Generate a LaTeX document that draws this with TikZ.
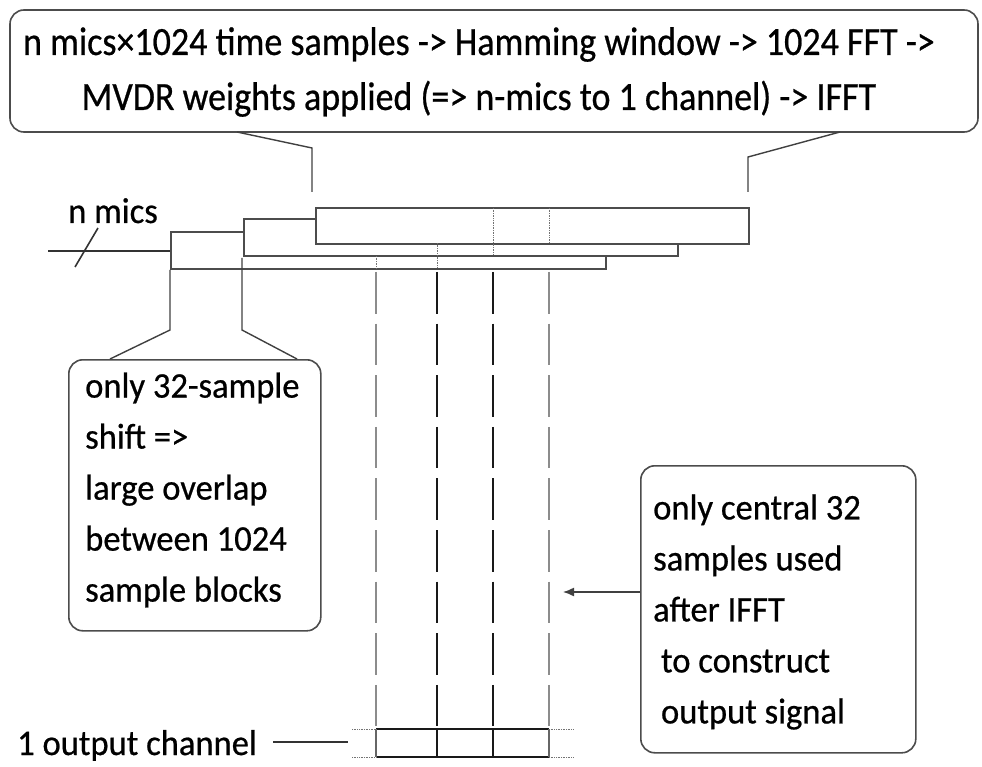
\documentclass[tikz,border=0pt]{standalone}
\usepackage{fontspec}
\setmainfont{Carlito}
\newfontfamily\topfont[FakeStretch=0.9,FakeBold=0.6]{Carlito}
\newfontfamily\boxfont[FakeStretch=0.96,FakeBold=0.6]{Carlito}
\usetikzlibrary{arrows.meta}
\begin{document}
\begin{tikzpicture}[x=1pt,y=-1pt,
  boxline/.style={draw=black!70, line width=1.6pt},
  callout/.style={boxline, rounded corners=14pt, fill=white},
  block/.style={boxline, fill=white},
  pointer/.style={draw=black!75, line width=1.4pt},
  guide/.style={draw=black!55, line width=0.7pt, densely dotted},
  greydash/.style={draw=black!45, line width=1.6pt, dash pattern=on 41.6pt off 10pt},
  blackdash/.style={draw=black!90, line width=2.2pt, dash pattern=on 41.6pt off 10pt},
  outline/.style={draw=black!90, line width=1.6pt},
  txt/.style={font=\boxfont\fontsize{36}{51}\selectfont, inner sep=0pt}
]
\useasboundingbox (0,0) rectangle (982,767);

% top callout
\draw[callout] (10,10) rectangle (978,132);
\node[font=\topfont\fontsize{40}{55}\selectfont, align=center, inner sep=0pt] (toptext) at (479,72)
  {n mics×1024 time samples -> Hamming window -> 1024 FFT ->\\
   MVDR weights applied (=> n-mics to 1 channel) -> IFFT};
\coordinate (tl) at (237,132);
\coordinate (tr) at (840,132);

% blocks (back to front)
\node[block, anchor=north west, minimum width=435, minimum height=37, inner sep=0pt] (b1) at (170,231) {};
\node[block, anchor=north west, minimum width=434, minimum height=37, inner sep=0pt] (b2) at (243,218) {};
\node[block, anchor=north west, minimum width=433, minimum height=36, inner sep=0pt] (b3) at (315,207) {};

% guide dotted lines inside blocks
\draw[guide] (493,208) -- (493,255);
\draw[guide] (549,208) -- (549,243);
\draw[guide] (437,243) -- (437,268);
\draw[guide] (376,256) -- (376,268);

% input
\coordinate (in) at (48,251);
\draw[outline, draw=black!80] (in) -- (b1.west |- in);
\draw[outline, draw=black!80] (75,267) -- (98,228);
\node[txt, anchor=base west] (nmics) at (68,223) {n mics};

% pointers from top callout to block 3
\draw[pointer] (tl) -- (312,148) -- (312,192);
\draw[pointer] (tr) -- (748,157) -- (748,192);

% dashed vertical lines
\coordinate (d1) at (376,272);
\coordinate (d2) at (437,272);
\coordinate (d3) at (493,272);
\coordinate (d4) at (549,272);
\draw[greydash] (d1) -- (376,729);
\draw[blackdash] (d2) -- (437,729);
\draw[blackdash] (d3) -- (493,729);
\draw[greydash] (d4) -- (549,729);

% output grid
\draw[outline] (376,729) -- (549,729);
\draw[outline] (376,757) -- (549,757);
\draw[outline, draw=black!60] (376,729) -- (376,757);
\draw[outline, line width=2.2pt] (437,729) -- (437,757);
\draw[outline, line width=2.2pt] (493,729) -- (493,757);
\draw[outline, draw=black!60] (549,729) -- (549,757);
\draw[guide] (352,729) -- (376,729);
\draw[guide] (352,757) -- (376,757);
\draw[guide] (549,729) -- (573,729);
\draw[guide] (549,757) -- (573,757);

\node[txt, anchor=base west] (outlbl) at (17,755) {1 output channel};
\draw[outline, draw=black!80] (273,742) -- (348,742);

% left callout
\node[callout, anchor=north west, minimum width=252, minimum height=271, inner sep=0pt] (lbox) at (68,359) {};
\node[txt, align=left, anchor=west] (ltext) at (85,490)
  {only 32-sample\\shift =>\\large overlap\\between 1024\\sample blocks};
\draw[pointer] (170,270) -- (170,330) -- (110,359);
\draw[pointer] (242,258) -- (242,330) -- (297,359);

% right callout
\node[callout, anchor=north west, minimum width=275, minimum height=287, inner sep=0pt] (rbox) at (640,465) {};
\node[txt, align=left, anchor=west] (rtext) at (653,612)
  {only central 32\\samples used\\after IFFT\\\ to construct\\\ output signal};
\coordinate (atip) at (563,592);
\draw[pointer, -{Latex[length=11pt,width=9pt]}] (rbox.west |- atip) -- (atip);
\end{tikzpicture}
\end{document}
